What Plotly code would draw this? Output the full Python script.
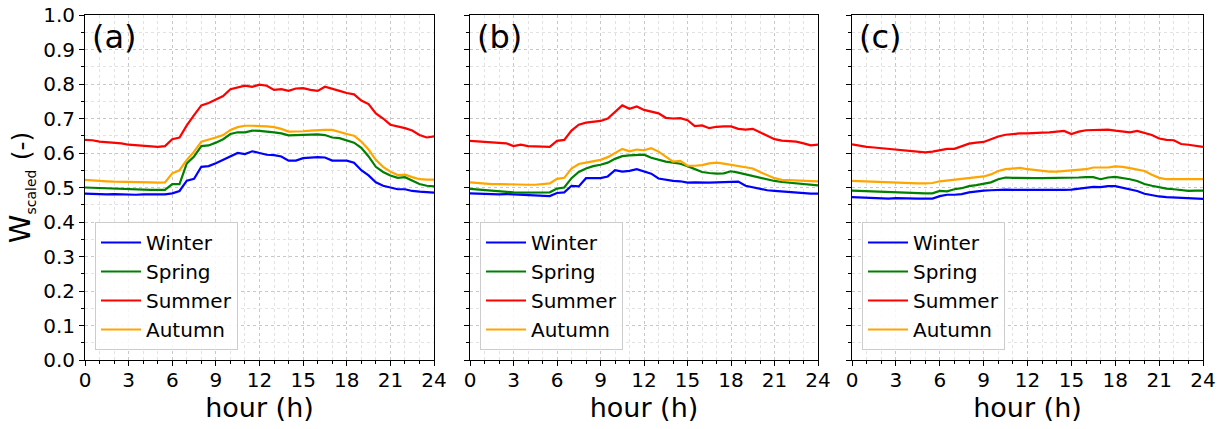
import plotly.graph_objects as go

hours = [i * 0.5 for i in range(49)]
seasons = ["Winter", "Spring", "Summer", "Autumn"]
colors = ["#0000ff", "#008000", "#ff0000", "#ffa500"]
panel_labels = ["(a)", "(b)", "(c)"]
x_ticks = [0, 3, 6, 9, 12, 15, 18, 21, 24]
y_ticks = [round(0.1 * i, 1) for i in range(11)]

# Panel (a)
a_winter = [0.482, 0.481, 0.480, 0.480, 0.481, 0.480, 0.480, 0.479, 0.480, 0.480, 0.479, 0.480, 0.483, 0.490, 0.520, 0.525, 0.560, 0.562, 0.570, 0.580, 0.590, 0.600, 0.597, 0.605, 0.600, 0.595, 0.594, 0.590, 0.578, 0.578, 0.585, 0.587, 0.588, 0.587, 0.578, 0.578, 0.578, 0.572, 0.550, 0.535, 0.515, 0.505, 0.500, 0.495, 0.495, 0.490, 0.488, 0.487, 0.485]
a_spring = [0.500, 0.499, 0.498, 0.497, 0.497, 0.496, 0.495, 0.494, 0.494, 0.493, 0.493, 0.493, 0.510, 0.510, 0.570, 0.590, 0.620, 0.622, 0.630, 0.640, 0.655, 0.660, 0.660, 0.665, 0.664, 0.663, 0.660, 0.657, 0.651, 0.652, 0.653, 0.652, 0.654, 0.652, 0.645, 0.643, 0.636, 0.630, 0.615, 0.590, 0.560, 0.545, 0.535, 0.528, 0.530, 0.520, 0.510, 0.505, 0.503]
a_summer = [0.638, 0.637, 0.633, 0.632, 0.630, 0.628, 0.624, 0.622, 0.621, 0.620, 0.618, 0.620, 0.640, 0.645, 0.680, 0.710, 0.738, 0.745, 0.755, 0.765, 0.785, 0.790, 0.795, 0.792, 0.798, 0.795, 0.783, 0.785, 0.780, 0.787, 0.788, 0.783, 0.780, 0.792, 0.785, 0.780, 0.774, 0.770, 0.752, 0.742, 0.715, 0.700, 0.682, 0.678, 0.672, 0.665, 0.652, 0.645, 0.648]
a_autumn = [0.522, 0.520, 0.519, 0.518, 0.517, 0.517, 0.516, 0.516, 0.515, 0.515, 0.514, 0.515, 0.541, 0.550, 0.580, 0.604, 0.633, 0.638, 0.645, 0.652, 0.667, 0.675, 0.679, 0.679, 0.679, 0.677, 0.675, 0.670, 0.662, 0.662, 0.663, 0.665, 0.667, 0.667, 0.667, 0.660, 0.655, 0.650, 0.633, 0.610, 0.580, 0.560, 0.546, 0.536, 0.537, 0.530, 0.524, 0.523, 0.523]

# Panel (b)
b_winter = [0.483, 0.482, 0.481, 0.481, 0.480, 0.481, 0.480, 0.479, 0.480, 0.479, 0.478, 0.475, 0.484, 0.486, 0.505, 0.503, 0.527, 0.526, 0.527, 0.532, 0.550, 0.546, 0.548, 0.553, 0.547, 0.540, 0.526, 0.522, 0.519, 0.518, 0.514, 0.515, 0.514, 0.514, 0.515, 0.516, 0.516, 0.517, 0.505, 0.500, 0.495, 0.492, 0.490, 0.488, 0.487, 0.486, 0.484, 0.482, 0.482]
b_spring = [0.496, 0.494, 0.492, 0.491, 0.490, 0.488, 0.486, 0.485, 0.485, 0.484, 0.485, 0.486, 0.497, 0.500, 0.527, 0.545, 0.555, 0.562, 0.566, 0.572, 0.583, 0.591, 0.593, 0.594, 0.595, 0.586, 0.580, 0.575, 0.572, 0.569, 0.562, 0.553, 0.545, 0.542, 0.540, 0.541, 0.547, 0.543, 0.538, 0.534, 0.528, 0.524, 0.519, 0.516, 0.514, 0.512, 0.510, 0.507, 0.506]
b_summer = [0.635, 0.634, 0.633, 0.632, 0.630, 0.628, 0.620, 0.624, 0.620, 0.619, 0.617, 0.618, 0.635, 0.638, 0.665, 0.682, 0.688, 0.690, 0.693, 0.700, 0.718, 0.738, 0.728, 0.735, 0.725, 0.720, 0.715, 0.702, 0.700, 0.701, 0.695, 0.678, 0.680, 0.672, 0.676, 0.677, 0.677, 0.670, 0.668, 0.670, 0.660, 0.650, 0.640, 0.636, 0.635, 0.633, 0.628, 0.622, 0.624]
b_autumn = [0.515, 0.513, 0.511, 0.510, 0.510, 0.509, 0.509, 0.509, 0.508, 0.508, 0.509, 0.512, 0.525, 0.528, 0.555, 0.568, 0.572, 0.575, 0.580, 0.588, 0.600, 0.612, 0.605, 0.610, 0.608, 0.614, 0.604, 0.590, 0.575, 0.577, 0.563, 0.563, 0.565, 0.570, 0.572, 0.569, 0.566, 0.563, 0.559, 0.555, 0.545, 0.535, 0.527, 0.522, 0.521, 0.520, 0.519, 0.517, 0.518]

# Panel (c)
c_winter = [0.472, 0.471, 0.470, 0.469, 0.469, 0.468, 0.469, 0.468, 0.468, 0.468, 0.468, 0.468, 0.475, 0.479, 0.479, 0.481, 0.486, 0.489, 0.491, 0.492, 0.494, 0.494, 0.493, 0.493, 0.492, 0.491, 0.491, 0.492, 0.493, 0.493, 0.494, 0.497, 0.500, 0.502, 0.501, 0.504, 0.504, 0.500, 0.494, 0.490, 0.482, 0.477, 0.474, 0.472, 0.471, 0.469, 0.468, 0.467, 0.467]
c_spring = [0.491, 0.490, 0.489, 0.488, 0.488, 0.486, 0.485, 0.484, 0.483, 0.483, 0.483, 0.483, 0.490, 0.489, 0.495, 0.498, 0.504, 0.507, 0.511, 0.515, 0.524, 0.529, 0.528, 0.527, 0.527, 0.527, 0.527, 0.527, 0.528, 0.527, 0.528, 0.529, 0.530, 0.530, 0.524, 0.529, 0.531, 0.528, 0.524, 0.519, 0.510, 0.505, 0.500, 0.497, 0.495, 0.493, 0.490, 0.491, 0.491]
c_summer = [0.625, 0.621, 0.618, 0.616, 0.614, 0.612, 0.610, 0.607, 0.605, 0.603, 0.602, 0.604, 0.608, 0.612, 0.612, 0.620, 0.627, 0.630, 0.632, 0.640, 0.648, 0.653, 0.656, 0.657, 0.657, 0.657, 0.659, 0.660, 0.661, 0.664, 0.655, 0.662, 0.666, 0.667, 0.666, 0.668, 0.665, 0.663, 0.660, 0.664, 0.658, 0.652, 0.642, 0.638, 0.637, 0.626, 0.624, 0.622, 0.618]
c_autumn = [0.519, 0.518, 0.517, 0.516, 0.516, 0.515, 0.515, 0.514, 0.513, 0.512, 0.512, 0.513, 0.518, 0.520, 0.522, 0.525, 0.527, 0.529, 0.532, 0.538, 0.548, 0.553, 0.555, 0.557, 0.553, 0.550, 0.548, 0.546, 0.546, 0.548, 0.550, 0.551, 0.553, 0.558, 0.558, 0.558, 0.561, 0.560, 0.556, 0.553, 0.548, 0.537, 0.528, 0.524, 0.524, 0.524, 0.524, 0.524, 0.524]

panels = [
    [a_winter, a_spring, a_summer, a_autumn],
    [b_winter, b_spring, b_summer, b_autumn],
    [c_winter, c_spring, c_summer, c_autumn],
]

W, H = 1225, 429
x_px = [(85, 434), (470, 818), (852, 1203)]
y_px = (15, 360)

fig = go.Figure()
legend_names = ["legend", "legend2", "legend3"]
axis_suffix = ["", "2", "3"]

grid_color = "#c8c8c8"
for p, series in enumerate(panels):
    sfx = axis_suffix[p]
    for s, vals in enumerate(series):
        fig.add_trace(go.Scatter(
            x=hours, y=vals, mode="lines", name=seasons[s],
            line=dict(color=colors[s], width=2.2),
            xaxis="x" + sfx, yaxis="y" + sfx,
            legend=legend_names[p],
        ))
    x0, x1 = x_px[p]
    xaxis = dict(
        domain=[x0 / W, x1 / W], range=[0, 24], anchor="y" + sfx, automargin=False,
        tickvals=x_ticks, ticks="outside", ticklen=5, tickwidth=1, tickcolor="black",
        ticklabelstandoff=-3,
        showline=True, mirror=True, linecolor="black", linewidth=1,
        showgrid=True, gridcolor=grid_color, griddash="dot", gridwidth=1,
        zeroline=False,
        tickfont=dict(family="DejaVu Sans", size=20, color="black"),
        title=dict(text="hour (h)", font=dict(family="DejaVu Sans", size=27, color="black"), standoff=4),
        minor=dict(dtick=1, tick0=0, ticks="outside", ticklen=3, tickcolor="black",
                   showgrid=True, gridcolor="#e2e2e2", griddash="dot", gridwidth=1),
    )
    yaxis = dict(
        domain=[1 - y_px[1] / H, 1 - y_px[0] / H], range=[0, 1], anchor="x" + sfx, automargin=False,
        tickvals=y_ticks, ticktext=[f"{v:.1f}" for v in y_ticks],
        ticks="outside", ticklen=5, tickwidth=1, tickcolor="black",
        showline=True, mirror=True, linecolor="black", linewidth=1,
        showgrid=True, gridcolor=grid_color, griddash="dot", gridwidth=1,
        zeroline=False, showticklabels=(p == 0),
        tickfont=dict(family="DejaVu Sans", size=20, color="black"),
        minor=dict(dtick=0.05, tick0=0, ticks="outside", ticklen=3, tickcolor="black",
                   showgrid=True, gridcolor="#e2e2e2", griddash="dot", gridwidth=1),
    )
    if p == 0:
        yaxis["title"] = dict(
            text="W<sub><span style='font-size:14px'>scaled</span></sub> <span style='font-size:25px'>(-)</span>",
            font=dict(family="DejaVu Sans", size=29, color="black"), standoff=4)
    fig.update_layout(**{"xaxis" + sfx: xaxis, "yaxis" + sfx: yaxis})

    leg = dict(
        x=(x0 + 10) / W, y=1 - 222 / H, xanchor="left", yanchor="top",
        bgcolor="rgba(255,255,255,0.85)", bordercolor="#cccccc", borderwidth=1,
        font=dict(family="DejaVu Sans", size=20, color="black"),
        tracegroupgap=0, itemwidth=40,
    )
    fig.update_layout(**{legend_names[p]: leg})

    fig.add_annotation(
        text=panel_labels[p], xref="paper", yref="paper",
        x=(x0 + 5) / W, y=1 - 16 / H, xanchor="left", yanchor="top",
        showarrow=False, font=dict(family="DejaVu Sans", size=32, color="black"),
    )

fig.update_layout(
    template="none",
    width=W, height=H, margin=dict(l=0, r=0, t=0, b=0),
    paper_bgcolor="white", plot_bgcolor="white", showlegend=True,
)

fig.write_html("out.html")
